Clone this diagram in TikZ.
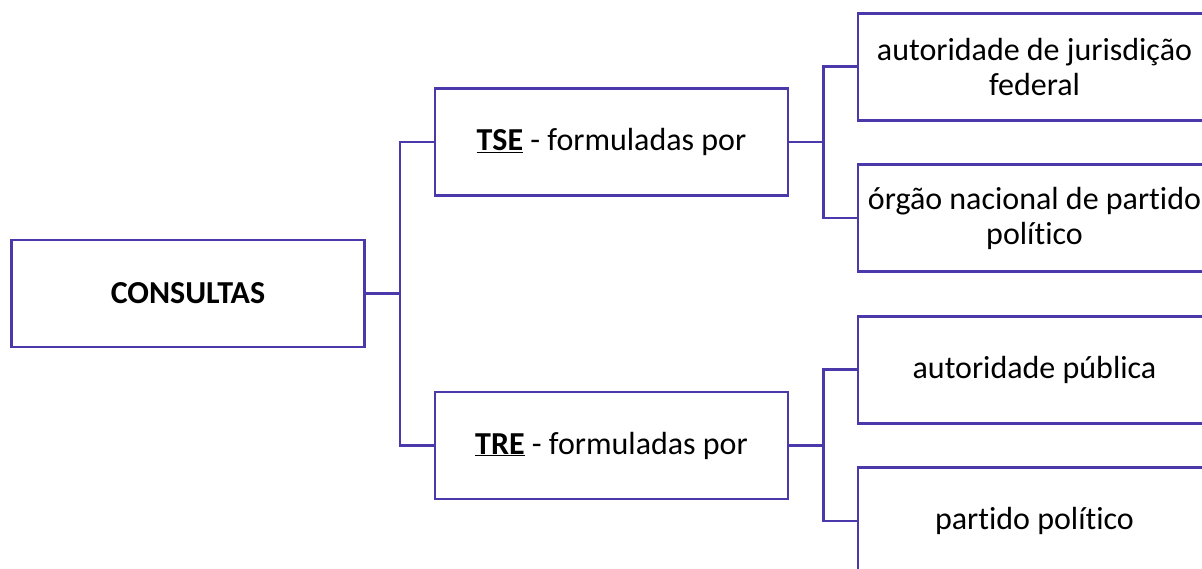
\documentclass[tikz,border=0pt]{standalone}
\usepackage{fontspec}
\setmainfont{Carlito}[Ligatures=NoCommon]
\usepackage{tikz}

\definecolor{linha}{RGB}{75,56,170}

\begin{document}
\begin{tikzpicture}[x=1pt,y=-1pt,line width=2.8pt,
    caixa/.style={draw=linha,minimum width=353pt,minimum height=107pt,inner sep=0pt,align=center,font=\fontsize{32}{35}\selectfont},
    liga/.style={draw=linha}]
  \useasboundingbox (0,0) rectangle (1202,569);
  \clip (0,0) rectangle (1202,569);
  % nivel 1
  \node[caixa] (consultas) at (188,293.5) {\textbf{CONSULTAS}};
  % nivel 2
  \node[caixa] (tse) at (611.5,142) {\underline{\textbf{TSE}} - formuladas por};
  \node[caixa] (tre) at (611.5,445.5) {\underline{\textbf{TRE}} - formuladas por};
  % nivel 3
  \node[caixa] (jurisfed) at (1034.5,66.7) {autoridade de jurisdição\\federal};
  \node[caixa] (orgnac) at (1034.5,218) {órgão nacional de partido\\político};
  \node[caixa] (autpub) at (1034.5,369.7) {autoridade pública};
  \node[caixa] (partpol) at (1034.5,521) {partido político};
  % conectores
  \coordinate (j1) at (400,293.5);
  \coordinate (j2) at (823.5,142);
  \coordinate (j3) at (823.5,445.5);
  \draw[liga] (consultas.east) -- (j1);
  \draw[liga] (j1) |- (tse.west);
  \draw[liga] (j1) |- (tre.west);
  \draw[liga] (tse.east) -- (j2);
  \draw[liga] (j2) |- (jurisfed.west);
  \draw[liga] (j2) |- (orgnac.west);
  \draw[liga] (tre.east) -- (j3);
  \draw[liga] (j3) |- (autpub.west);
  \draw[liga] (j3) |- (partpol.west);
\end{tikzpicture}
\end{document}
